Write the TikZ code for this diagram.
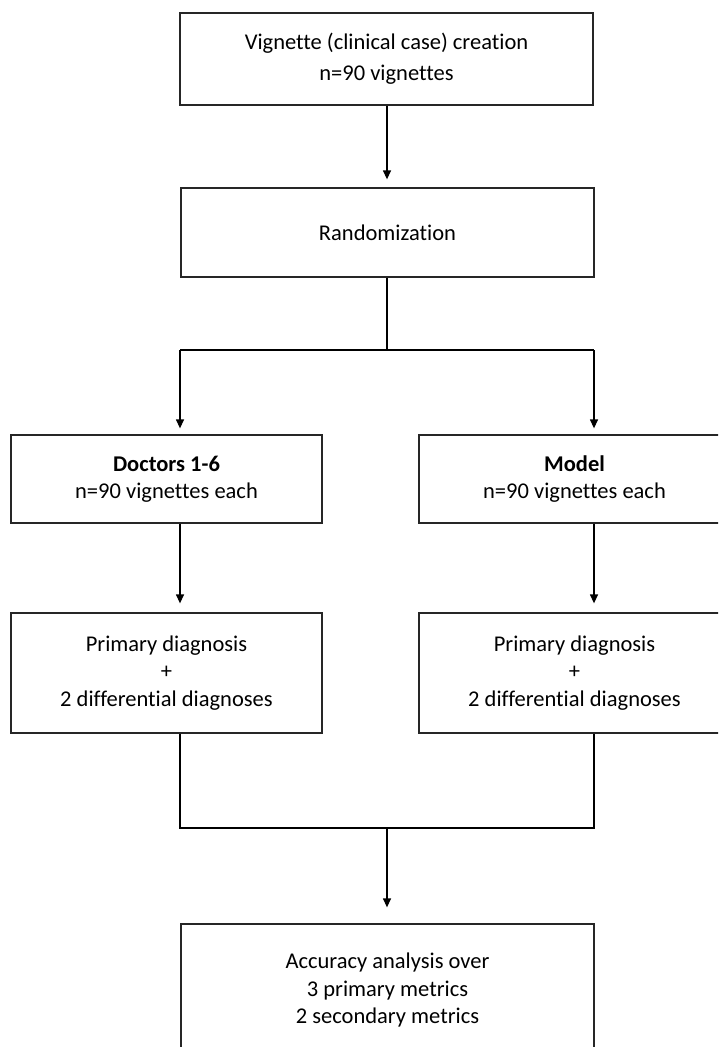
\documentclass[tikz,border=0pt]{standalone}
\usepackage{fontspec}
\setmainfont{Carlito}[Ligatures=NoCommon]
\usetikzlibrary{arrows.meta}
\begin{document}
\begin{tikzpicture}[x=1pt,y=-1pt,
  box/.style={draw=black!85, line width=1.3pt, rectangle, align=center, inner sep=0pt,
    font=\fontsize{22.5}{27.5}\selectfont},
  conn/.style={draw=black, line width=1.3pt},
  arr/.style={conn, -{Triangle[length=9pt,width=8pt]}}]
\useasboundingbox (0,0) rectangle (718,1047);
\fill[white] (0,0) rectangle (718,1047);
\clip (0,0) rectangle (718,1047);

\node[box, minimum width=413pt, minimum height=92pt] (create) at (386.5,59)
  {Vignette (clinical case) creation\\[3.5pt] n=90 vignettes};
\node[box, minimum width=413pt, minimum height=89pt] (rand) at (387.5,232.5)
  {Randomization};
\node[box, minimum width=311pt, minimum height=88pt] (doc) at (166.5,479)
  {\textbf{Doctors 1-6}\\n=90 vignettes each};
\node[box, minimum width=311pt, minimum height=88pt] (model) at (574.5,479)
  {\textbf{Model}\\n=90 vignettes each};
\node[box, minimum width=311pt, minimum height=120pt] (primL) at (166.5,673)
  {Primary diagnosis\\+\\2 differential diagnoses};
\node[box, minimum width=311pt, minimum height=120pt] (primR) at (574.5,673)
  {Primary diagnosis\\+\\2 differential diagnoses};
\node[box, minimum width=413pt, minimum height=132pt] (acc) at (387.5,990)
  {Accuracy analysis over\\3 primary metrics\\2 secondary metrics};

\coordinate (s) at (387,350);
\coordinate (sL) at (180,350);
\coordinate (sR) at (594,350);
\coordinate (jL) at (180,828);
\coordinate (jR) at (594,828);
\coordinate (j) at (387,828);

\draw[arr, shorten >=8pt] (create.south -| s) -- (rand.north -| s);
\draw[conn] (rand.south -| s) -- (s);
\draw[conn] (sL) -- (sR);
\draw[arr, shorten >=6pt] (sL) -- (sL |- doc.north);
\draw[arr, shorten >=6pt] (sR) -- (sR |- model.north);
\draw[arr, shorten >=9pt] (doc.south -| sL) -- (primL.north -| sL);
\draw[arr, shorten >=9pt] (model.south -| sR) -- (primR.north -| sR);
\draw[conn] (primL.south -| jL) -- (jL) -- (jR) -- (primR.south -| jR);
\draw[arr, shorten >=16pt] (j) -- (j |- acc.north);
\end{tikzpicture}
\end{document}
